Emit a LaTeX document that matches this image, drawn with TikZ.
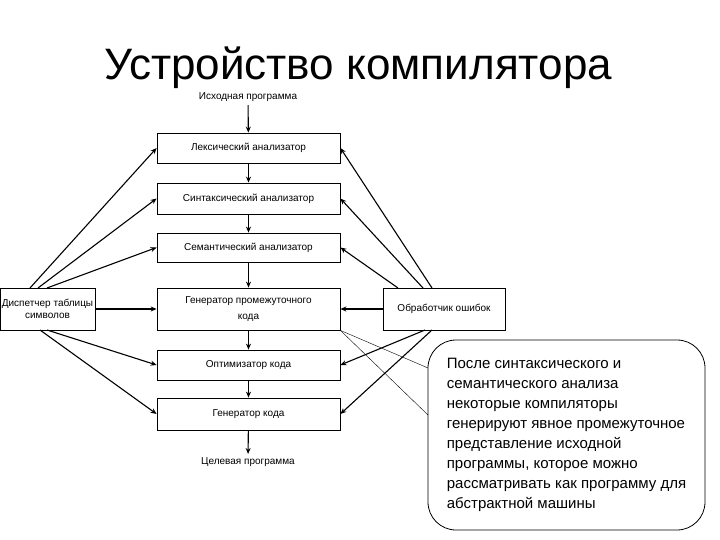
\documentclass[tikz,border=0pt]{standalone}
\usepackage{fontspec}
\setmainfont{Liberation Sans}
\usetikzlibrary{arrows.meta}
\begin{document}
\begin{tikzpicture}[x=1pt,y=-1pt,
  box/.style={draw,line width=0.8pt,minimum width=183pt,inner sep=2pt,align=center,font=\fontsize{10}{12}\selectfont},
  side/.style={draw,line width=0.8pt,align=center,inner sep=1pt,font=\fontsize{10}{12}\selectfont},
  arr/.style={-{Stealth[length=6pt,width=5pt]},line width=1.1pt},
  thin/.style={line width=0.4pt}]
\useasboundingbox (0,0) rectangle (720,540);
\node (title) at (358,68) {\fontsize{44}{46}\selectfont Устройство компилятора};
\node[font=\fontsize{10}{12}\selectfont] (src) at (248,97) {Исходная программа};
\node[box,minimum height=30pt] (lex) at (248.5,148) {Лексический анализатор};
\node[box,minimum height=31pt] (syn) at (248.5,198.5) {Синтаксический анализатор};
\node[box,minimum height=29pt] (sem) at (248.5,247.5) {Семантический анализатор};
\node[box,minimum height=42pt,font=\fontsize{10}{16}\selectfont] (gen) at (248.5,309) {Генератор промежуточного\\кода};
\node[box,minimum height=30pt] (opt) at (248.5,365) {Оптимизатор кода};
\node[box,minimum height=32pt] (cg) at (248.5,414) {Генератор кода};
\node[font=\fontsize{10}{12}\selectfont] (tgt) at (248,462) {Целевая программа};
\node[side,minimum width=95pt,minimum height=42pt] (tab) at (47.5,309) {Диспетчер таблицы\\символов};
\node[side,minimum width=122pt,minimum height=42pt] (err) at (444,309) {Обработчик ошибок};
\node[draw,rounded corners=28pt,line width=0.8pt,minimum width=277pt,minimum height=190pt,inner xsep=10pt,inner ysep=6pt,align=left,font=\fontsize{15}{20}\selectfont] (note) at (566.5,435) {После синтаксического и\\семантического анализа\\некоторые компиляторы\\генерируют явное промежуточное\\представление исходной\\программы, которое можно\\рассматривать как программу для\\абстрактной машины};
\draw[arr] (src) -- (lex);
\draw[arr] (lex) -- (syn);
\draw[arr] (syn) -- (sem);
\draw[arr] (sem) -- (gen);
\draw[arr] (gen) -- (opt);
\draw[arr] (opt) -- (cg);
\draw[arr] (cg) -- (tgt);
\draw[arr] (tab) -- (gen);
\draw[arr] (err) -- (gen);
\coordinate (t1) at (30,288); \coordinate (t2) at (38,288); \coordinate (t3) at (47,288);
\coordinate (t4) at (47,330); \coordinate (t5) at (40,330);
\draw[arr] (t1) -- (lex.west);
\draw[arr] (t2) -- (syn.west);
\draw[arr] (t3) -- (sem.west);
\draw[arr] (t4) -- (opt.west);
\draw[arr] (t5) -- (cg.west);
\coordinate (e1) at (432,288); \coordinate (e2) at (423,288); \coordinate (e3) at (398,288);
\coordinate (e4) at (425,330); \coordinate (e5) at (432,330);
\draw[arr] (e1) -- (lex.east);
\draw[arr] (e2) -- (syn.east);
\draw[arr] (e3) -- (sem.east);
\draw[arr] (e4) -- (opt.east);
\draw[arr] (e5) -- (cg.east);
\coordinate (c1) at (428,368); \coordinate (c2) at (428,415);
\draw[thin] (gen.south east) -- (c1);
\draw[thin] (gen.south east) -- (c2);
\end{tikzpicture}
\end{document}
